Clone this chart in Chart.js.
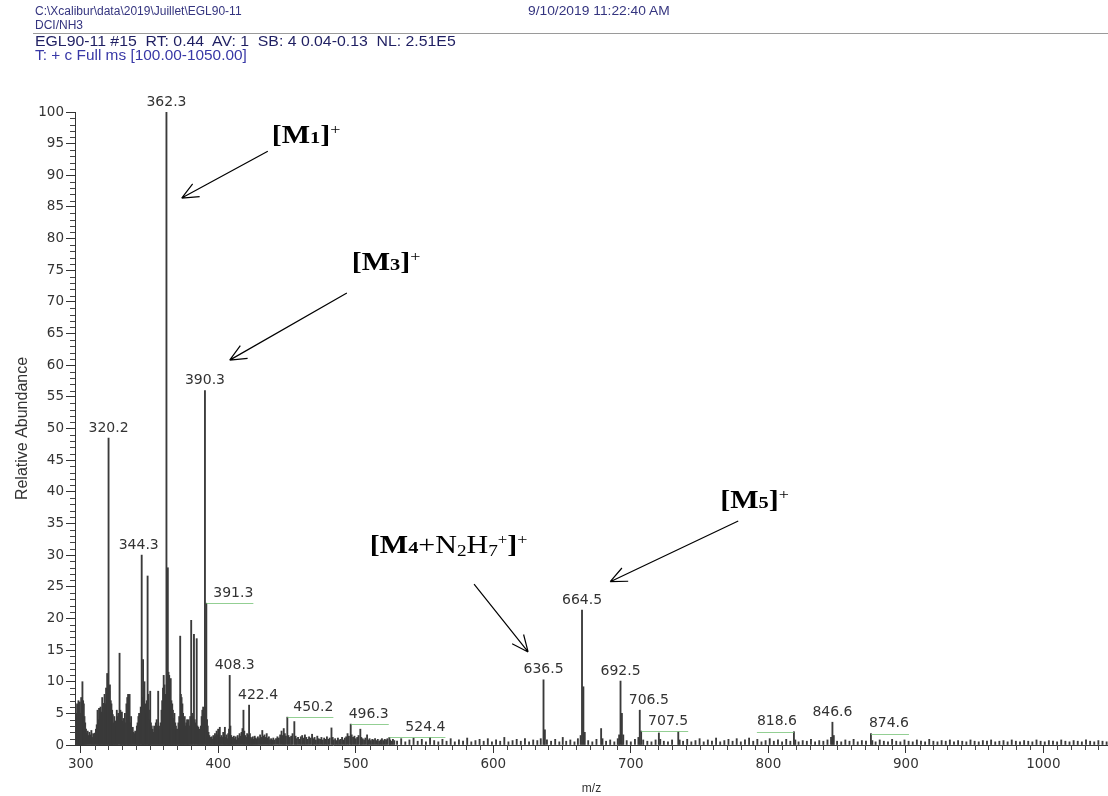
<!DOCTYPE html>
<html>
<head>
<meta charset="utf-8">
<script src="https://cdn.jsdelivr.net/npm/chart.js@4.4.1/dist/chart.umd.min.js"></script>
<style>
  body { margin: 0; background: #fff; }
  #wrap { position: relative; width: 1108px; height: 796px; }
  #chart { position: absolute; left: 0; top: 0; }
  .hd { position: absolute; font-family: "Liberation Sans", Arial, sans-serif; white-space: pre; transform-origin: 0 0; }
  .l1 { font-size: 12px; color: #34347f; }
  .l3 { font-size: 14px; color: #1f1f62; transform: scaleX(1.13); }
  .l4 { font-size: 14px; color: #3838a6; transform: scaleX(1.1); }
  #rule { position: absolute; left: 33px; right: 0; top: 33px; height: 0; border-top: 1.5px solid #9a9a9a; }
</style>
</head>
<body>
<div id="wrap">
  <canvas id="chart" width="1108" height="796"></canvas>
  <div class="hd l1" style="left:35px;top:4px">C:\Xcalibur\data\2019\Juillet\EGL90-11</div>
  <div class="hd l1" style="left:528px;top:4px;transform:scaleX(1.15)">9/10/2019 11:22:40 AM</div>
  <div class="hd l1" style="left:35px;top:18px">DCI/NH3</div>
  <div id="rule"></div>
  <div class="hd l3" style="left:35px;top:33px">EGL90-11 #15  RT: 0.44  AV: 1  SB: 4 0.04-0.13  NL: 2.51E5</div>
  <div class="hd l4" style="left:35px;top:47px">T: + c Full ms [100.00-1050.00]</div>
</div>
<script>
// m/z , relative abundance
const cluster300 = [
  [296.2,3.5],[296.8,5],[297.3,6.5],[297.8,4.2],[298.3,7],[298.8,5.5],[299.3,6.8],[299.8,5],[300.3,7.5],[300.8,6],
  [301.2,10],[301.7,7],[302.2,6.5],[302.7,4.5],[303.2,3.5],[303.8,2.5],[304.3,1.8],[305,2.2],[305.6,1.5],[306.3,2],
  [307,1.6],[307.7,2.3],[308.3,1.2],[309,1.8],[309.7,1.4],[310.3,1.9],[311,2.5],[311.6,3.2],[312.2,5.5],[312.8,4],
  [313.3,5.8],[313.9,4.5],[314.4,6],[315,5.2],[315.6,7.5],[316.2,6.6],[316.8,5],[317.3,8],[317.9,6.5],[318.4,9],
  [319.2,11.3],[319.7,8],[320.2,48.5],[320.7,8.5],[321.2,9.5],[321.8,7],[322.3,6.5],[322.8,5.5],[323.3,4.8],[323.9,3.5],
  [324.4,4.5],[325,3.8],[325.6,3],[326.2,5.5],[326.7,4.5],[327.3,5],[328.2,14.5],[328.8,5.5],[329.3,4.5],[329.9,5.2],
  [330.4,3.8],[331,4.2],[331.5,3.2],[332.1,5],[332.6,3.5],[333.2,6.5],[333.8,7.5],[334.4,8],[334.9,4],[335.5,8],
  [336,3.5],[336.6,4.5],[337.2,2.5],[337.8,2.8],[338.4,2],[339,1.8],[339.6,2.2],[340.2,2],[340.8,3],[341.3,3.5],
  [341.9,4.5],[342.4,5],[343,4.2],[343.6,6],[344.3,30],[344.8,7.5],[345.3,13.5],[345.8,9],[346.3,10],[346.9,6.5],
  [347.4,5],[348,7],[348.6,26.7],[349.1,8],[349.6,5.5],[350,4],[350.5,8.5],[351,3.5],[351.6,3],[352.2,2.5],
  [352.8,2],[353.4,3],[354,2.5],[354.6,3.5],[355.2,4],[355.8,3],[356.3,8.5],[356.9,3],[357.5,2.5],[358.1,3.5],
  [358.7,5.5],[359.2,7],[359.8,9],[360.3,11],[360.9,9.5],[361.4,8],[361.9,7],[362.3,100],[362.8,10],[363.3,28],
  [363.8,11.5],[364.3,11],[364.9,9.5],[365.4,10.5],[365.9,7],[366.5,6.5],[367,5.5],[367.6,4.2],[368.1,5],[368.7,3.5],
  [369.2,3],[369.8,2.5],[370.4,2.5],[371,3.5],[371.6,4.5],[372.3,17.2],[372.8,8],[373.3,7.5],[373.9,6.5],[374.4,5],
  [375,4],[375.6,4.5],[376.1,3],[376.7,3.5],[377.3,4],[377.9,3],[378.4,4],[379,3],[379.6,4.5],[380.3,19.7],
  [380.9,5],[381.4,4.5],[382.3,17.5],[382.9,4],[383.5,3.5],[384.3,16.8],[384.9,3],[385.5,2.8],[386.1,2.5],[386.7,2],
  [387.3,3],[387.9,4.5],[388.4,5.5],[389,6],[389.6,5],[390.3,56],[390.8,6],[391.3,22.4],[391.8,4],[392.3,3],
  [392.9,2],[393.5,1.5],[394,1.2],[394.6,1],[395.2,1.3],[395.8,0.9],[396.4,1.5],[397,1.2],[397.6,1.8],[398.2,1.4],
  [398.8,2.2],[399.3,1.6],[399.9,2.5]
];
const cluster400 = [
  [400.5,1.5],[401.1,2.8],[401.7,1.2],[402.3,1.5],[403,1.2],[403.6,2],[404.2,1.5],[404.8,2.8],[405.4,1.2],[406,1.6],
  [406.6,1],[407.2,1.8],[407.8,2.5],[408.3,11],[408.8,3],[409.4,1.5],[410,1.2],[410.6,0.9],[411.3,1.4],[412,1],
  [412.7,1.3],[413.4,0.8],[414.1,1.5],[414.8,1.1],[415.5,1.8],[416.2,1.4],[416.9,2],[417.6,2.6],[418.3,5.5],[418.9,2.2],
  [419.6,1.5],[420.3,1.2],[421,1.8],[421.7,1.6],[422.4,6.3],[423,1.8],[423.7,1.2],[424.4,1],[425.1,1.3],[425.8,0.9],
  [426.5,1.4],[427.3,1.1],[428,0.9],[428.8,1.3],[429.6,1],[430.4,1.6],[431.2,1.2],[432,2.3],[432.8,1.4],[433.6,1.6],
  [434.4,1.2],[435.2,1.8],[436,1.1],[436.8,1.3],[437.6,0.8],[438.4,1],[439.2,0.8],[440,1.1],[441,0.8],[442,1],
  [443,1.3],[444,1.1],[445,1.6],[446,2.2],[446.8,1.5],[447.6,2.6],[448.4,1.8],[449.2,1.4],[450.2,4.4],[451,1.5],
  [452,1.2],[453,1.4],[454,1.8],[455.3,3.7],[456.2,1.4],[457,1],[458,1.2],[459,0.9],[460,1.3],[461,1.5],
  [462,1.1],[463,1.6],[464,1.2],[465,0.9],[466,1.3],[467,1.1],[468.2,1.7],[469,1],[470,1.2],[471,0.8],
  [472,1.4],[473,1],[474,0.9],[475,1.2],[476,0.8],[477,1.1],[478,0.9],[479,1.3],[480,0.9],[481,1.1],
  [482.3,2.7],[483.2,1.2],[484,0.8],[485,1],[486,0.7],[487,1.1],[488,0.8],[489,0.9],[490,1.2],[491,0.8],
  [492,1.1],[493,1.3],[494,1.8],[495,1.4],[496.3,3.3],[497,1.6],[498,1.2],[499,1.4],[500,1],[501,1.2],
  [502,1.5],[503.3,2.5],[504,1.2],[505,1],[506,0.8],[507,1.1],[508.2,1.6],[509,0.8],[510,1],[511,0.7],
  [512,0.9],[513,0.8],[514,1],[515,0.7],[516,0.9],[517,0.6],[518,0.8],[519,1],[520,0.7],[521,0.9],
  [522,0.8],[523,1],[524.4,1.2],[525,0.8],[526,0.6],[527,0.9],[528,0.7]
];
const tail = [
  [530,0.6],[533,1.0],[536,0.5],[539,0.8],[542,1.1],[545,0.6],[548,0.9],[551,0.5],[554,1.2],[557,0.7],
  [560,0.5],[563,0.9],[566,0.6],[569,1.0],[572,0.5],[575,0.8],[578,0.6],[581,1.1],[584,0.5],[587,0.7],
  [590,0.9],[593,0.6],[596,1.0],[599,0.5],[602,0.8],[605,0.6],[608,1.2],[611,0.5],[614,0.7],[617,0.9],
  [620,0.6],[623,1.0],[626,0.5],[629,0.8],[632,0.7],[634.5,1.0],[636.5,10.3],[637.5,2.4],[639,0.8],[642,0.6],
  [645,0.9],[648,0.5],[650.5,1.2],[653,0.6],[656,0.8],[659,0.5],[661.5,1.0],[663.5,1.5],[664.5,21.3],[665.5,9.2],
  [666.5,2.0],[669,0.7],[672,0.5],[675,0.9],[678.4,2.6],[679.4,1.0],[682,0.6],[685,0.8],[688,0.5],[690.5,1.0],
  [691.5,1.6],[692.5,10.1],[693.5,5.0],[694.5,1.6],[697,0.7],[700,0.5],[703,0.9],[705.5,1.2],[706.5,5.5],[707.5,2.2],
  [709,0.8],[712,0.6],[715,0.5],[718,0.8],[720.4,1.9],[721.4,0.9],[724,0.6],[727,0.5],[730,0.8],[734.5,2.1],
  [735.5,0.8],[738,0.6],[741,0.9],[744,0.5],[747,0.7],[750,1.0],[753,0.5],[756,0.8],[759,0.6],[762,1.1],
  [765,0.5],[768,0.7],[771,0.9],[774,0.6],[777,1.0],[780,0.5],[783,0.8],[786,1.1],[789,0.6],[792,0.9],
  [795,0.5],[798,0.7],[801,1.0],[804,0.6],[807,0.8],[810,0.5],[813,0.9],[816,0.6],[818.6,2.1],[819.6,0.8],
  [822,0.5],[825,0.7],[828,0.6],[831,0.9],[834,0.5],[837,0.7],[840,0.6],[843,0.8],[845.6,1.2],[846.6,3.6],
  [847.6,1.5],[850,0.6],[853,0.5],[856,0.8],[859,0.6],[862,0.9],[865,0.5],[868,0.7],[871,0.6],[874.6,1.8],
  [875.6,0.7],[878,0.5],[881,0.8],[884,0.6],[887,0.5],[890,0.9],[893,0.6],[896,0.5],[899,0.8],[902,0.6],
  [905,0.5],[908,0.8],[911,0.6],[914,0.5],[917,0.9],[920,0.6],[923,0.5],[926,0.7],[929,0.6],[932,0.8],
  [935,0.5],[938,0.7],[941,0.6],[944,0.5],[947,0.8],[950,0.6],[953,0.5],[956,0.7],[959,0.6],[962,0.8],
  [965,0.5],[968,0.6],[971,0.7],[974,0.5],[977,0.8],[980,0.6],[983,0.5],[986,0.7],[989,0.6],[992,0.5],
  [995,0.8],[998,0.6],[1001,0.5],[1004,0.7],[1007,0.6],[1010,0.5],[1013,0.8],[1016,0.6],[1019,0.5],[1022,0.7],
  [1025,0.6],[1028,0.5],[1031,0.8],[1034,0.6],[1037,0.5],[1040,0.7],[1043,0.6],[1046,0.5]
];
const labelledPeaks = [320.2, 344.3, 362.3, 390.3, 391.3, 408.3, 422.4, 450.2, 496.3, 524.4,
                       636.5, 664.5, 692.5, 706.5, 707.5, 818.6, 846.6, 874.6];
const xTickValues = [300, 400, 500, 600, 700, 800, 900, 1000];

const spectrum = cluster300.concat(cluster400, tail);
const heightAt = mz => spectrum.find(p => p[0] === mz)[1];

// label placement (pixel shift from the peak, like the Xcalibur leader labels)
const labelShift = { 344.3: -3, 391.3: 27, 408.3: 5, 422.4: 9, 450.2: 26, 496.3: 18, 524.4: 36,
                     706.5: 9, 707.5: 27, 818.6: -17, 874.6: 18 };

// annotation anchors in data units (m/z, abundance)
const notes = [
  { at: [438.9, 95.1], tail: [436.0, 93.8], head: [373.4, 86.4],
    parts: [['[M', 'b', 25, 0], ['1', 'b', 17, 0], [']', 'b', 25, 0], ['+', 'n', 15, -9]] },
  { at: [497.1, 75.0], tail: [493.5, 71.4], head: [408.3, 60.8],
    parts: [['[M', 'b', 25, 0], ['3', 'b', 17, 0], [']', 'b', 25, 0], ['+', 'n', 15, -9]] },
  { at: [510.2, 30.3], tail: [586.0, 25.4], head: [625.3, 14.7],
    parts: [['[M', 'b', 25, 0], ['4', 'b', 17, 0], ['+N', 'n', 25, 0], ['2', 'n', 16, 3], ['H', 'n', 25, 0],
            ['7', 'n', 16, 3], ['+', 'n', 14, -9], [']', 'b', 25, 0], ['+', 'n', 15, -9]] },
  { at: [765.0, 37.4], tail: [778.1, 35.4], head: [685.0, 25.8],
    parts: [['[M', 'b', 25, 0], ['5', 'b', 17, 0], [']', 'b', 25, 0], ['+', 'n', 15, -9]] }
];

const minorTicks = {
  id: 'minorTicks',
  afterDraw(chart) {
    const { ctx, scales: { x, y } } = chart;
    ctx.save();
    ctx.strokeStyle = '#444';
    ctx.lineWidth = 1;
    ctx.beginPath();
    for (let v = 1; v < 100; v++) {
      if (v % 5 === 0) continue;
      const py = Math.round(y.getPixelForValue(v)) + 0.5;
      ctx.moveTo(x.left - 5, py); ctx.lineTo(x.left, py);
    }
    for (let v = 300; v <= 1040; v += 10) {
      if (v % 100 === 0) continue;
      const px = Math.round(x.getPixelForValue(v)) + 0.5;
      ctx.moveTo(px, y.bottom); ctx.lineTo(px, y.bottom + 5);
    }
    ctx.stroke();
    ctx.restore();
  }
};

const peakLabels = {
  id: 'peakLabels',
  afterDatasetsDraw(chart) {
    const { ctx, scales: { x, y } } = chart;
    ctx.save();
    ctx.font = '14px "DejaVu Sans"';
    ctx.textAlign = 'center';
    ctx.textBaseline = 'middle';
    labelledPeaks.forEach(mz => {
      const px = x.getPixelForValue(mz);
      const py = y.getPixelForValue(heightAt(mz));
      const dx = labelShift[mz] || 0;
      const txt = mz.toFixed(1);
      const w = ctx.measureText(txt).width;
      if (Math.abs(dx) >= 15) {
        ctx.strokeStyle = 'rgba(120,195,120,0.8)';
        ctx.lineWidth = 1;
        ctx.beginPath();
        ctx.moveTo(px, Math.round(py) + 0.5);
        ctx.lineTo(px + dx + Math.sign(dx) * w / 2, Math.round(py) + 0.5);
        ctx.stroke();
      }
      ctx.fillStyle = '#333';
      ctx.fillText(txt, px + dx, py - 10);
    });
    ctx.restore();
  }
};

const arrows = {
  id: 'arrows',
  afterDraw(chart) {
    const { ctx, scales: { x, y } } = chart;
    ctx.save();
    notes.forEach(n => {
      const tx = x.getPixelForValue(n.tail[0]), ty = y.getPixelForValue(n.tail[1]);
      const hx = x.getPixelForValue(n.head[0]), hy = y.getPixelForValue(n.head[1]);
      const ang = Math.atan2(ty - hy, tx - hx);
      ctx.strokeStyle = '#000';
      ctx.lineWidth = 1.2;
      ctx.beginPath();
      ctx.moveTo(tx, ty); ctx.lineTo(hx, hy);
      [0.42, -0.42].forEach(a => {
        ctx.moveTo(hx, hy);
        ctx.lineTo(hx + 18 * Math.cos(ang + a), hy + 18 * Math.sin(ang + a));
      });
      ctx.stroke();

      // label with sub/superscripts, stretched a bit like the source image
      const lx = x.getPixelForValue(n.at[0]), ly = y.getPixelForValue(n.at[1]);
      ctx.translate(lx, ly);
      ctx.scale(1.2, 1);
      ctx.fillStyle = '#000';
      ctx.textBaseline = 'alphabetic';
      let cx = 0;
      n.parts.forEach(([t, wgt, size, dy]) => {
        ctx.font = (wgt === 'b' ? 'bold ' : '') + size + 'px "Liberation Serif"';
        ctx.fillText(t, cx, dy);
        cx += ctx.measureText(t).width;
      });
      ctx.setTransform(1, 0, 0, 1, 0, 0);
    });
    ctx.restore();
  }
};

const tickFont = { family: 'DejaVu Sans', size: 13.5 };

new Chart(document.getElementById('chart').getContext('2d'), {
  type: 'bar',
  data: {
    datasets: [{
      data: spectrum.map(p => ({ x: p[0], y: p[1] })),
      backgroundColor: '#3a3a3a',
      barThickness: 1.2,
      borderWidth: 0
    }]
  },
  options: {
    responsive: false,
    animation: false,
    layout: { padding: { top: 112, right: 0, bottom: 0, left: 0 } },
    plugins: { legend: { display: false }, tooltip: { enabled: false } },
    scales: {
      x: {
        type: 'linear', min: 295.8, max: 1047, offset: false,
        afterBuildTicks: s => { s.ticks = xTickValues.map(v => ({ value: v })); },
        afterFit: s => { s.height = 51; },
        ticks: { font: tickFont, color: '#333', padding: 3, maxRotation: 0, autoSkip: false,
                 callback: v => String(v) },
        grid: { drawOnChartArea: false, tickLength: 8, color: '#333', offset: false },
        border: { color: '#333' },
        title: { display: true, text: 'm/z', font: { family: 'Liberation Sans', size: 12 }, color: '#333', padding: 0 }
      },
      y: {
        min: 0, max: 100,
        afterFit: s => { s.width = 75; },
        ticks: { stepSize: 5, font: tickFont, color: '#333', padding: 2 },
        grid: { drawOnChartArea: false, tickLength: 9, color: '#333' },
        border: { color: '#333' },
        title: { display: true, text: 'Relative Abundance', font: { family: 'Liberation Sans', size: 16 }, color: '#333', padding: { top: 13, bottom: 0 } }
      }
    }
  },
  plugins: [minorTicks, peakLabels, arrows]
});
</script>
</body>
</html>
